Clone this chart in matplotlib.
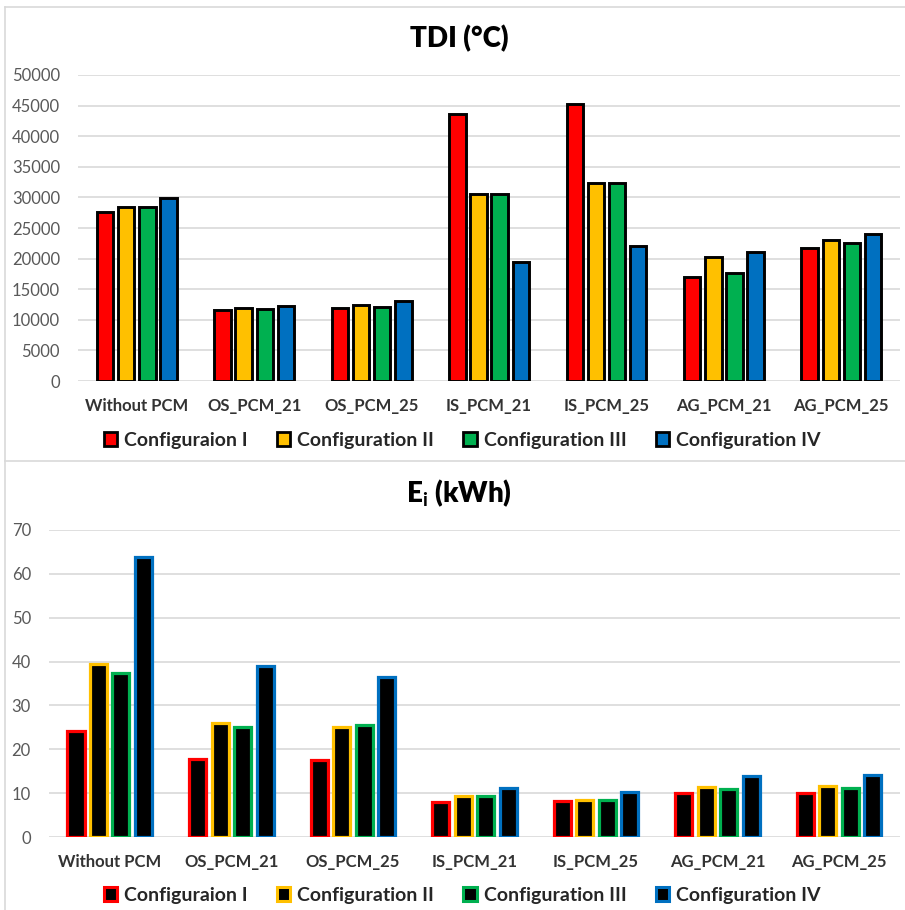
import numpy as np
import matplotlib
matplotlib.use('Agg')
import matplotlib.pyplot as plt
from matplotlib.patches import Patch
from matplotlib.lines import Line2D

plt.rcParams['font.family'] = ['Lato', 'DejaVu Sans']
plt.rcParams['mathtext.fontset'] = 'custom'
plt.rcParams['mathtext.bf'] = 'Lato:bold'
plt.rcParams['mathtext.rm'] = 'Lato'

categories = ['Without PCM', 'OS_PCM_21', 'OS_PCM_25', 'IS_PCM_21',
              'IS_PCM_25', 'AG_PCM_21', 'AG_PCM_25']
configs = ['Configuraion I', 'Configuration II', 'Configuration III', 'Configuration IV']
colors = ['#FF0000', '#FFC000', '#00B050', '#0070C0']

# TDI values, one list per configuration
tdi_c1 = [27600, 11600, 12000, 43600, 45200, 17000, 21700]
tdi_c2 = [28500, 11900, 12500, 30600, 32300, 20200, 23000]
tdi_c3 = [28500, 11800, 12100, 30600, 32300, 17700, 22600]
tdi_c4 = [29900, 12250, 13100, 19400, 22100, 21000, 24000]

# Ei values
ei_c1 = [24.1, 17.7, 17.6, 7.9, 8.2, 10.0, 10.0]
ei_c2 = [39.4, 25.9, 25.0, 9.3, 8.4, 11.4, 11.6]
ei_c3 = [37.3, 25.1, 25.6, 9.3, 8.4, 10.9, 11.2]
ei_c4 = [63.9, 39.0, 36.5, 11.1, 10.2, 13.9, 14.2]

tdi = [tdi_c1, tdi_c2, tdi_c3, tdi_c4]
ei = [ei_c1, ei_c2, ei_c3, ei_c4]

fig = plt.figure(figsize=(9.05, 9.10), dpi=100)
x = np.arange(len(categories))


def style_axes(ax, ymax, step):
    ax.set_xlim(-0.5, len(categories) - 0.5)
    ax.set_ylim(0, ymax)
    ax.set_yticks(np.arange(0, ymax + step, step))
    ax.yaxis.grid(True, color='#D9D9D9', linewidth=1.2)
    ax.set_axisbelow(True)
    for s in ax.spines.values():
        s.set_visible(False)
    ax.tick_params(axis='both', length=0)
    ax.tick_params(axis='y', labelsize=12, labelcolor='#595959', pad=13)
    ax.tick_params(axis='x', labelsize=12, labelcolor='#333333', pad=12)
    ax.set_xticks(x)
    ax.set_xticklabels(categories, fontweight='bold')


# top panel: TDI
ax1 = fig.add_axes([0.0862, 0.5813, 0.9083, 0.3363])
pitch = 0.18
for i in range(4):
    ax1.bar(x + (i - 1.5) * pitch, tdi[i], width=0.14, color=colors[i],
            edgecolor='black', linewidth=2.1, zorder=3)
style_axes(ax1, 50000, 5000)

# bottom panel: Ei
ax2 = fig.add_axes([0.0541, 0.0802, 0.9403, 0.3374])
pitch = 0.185
for i in range(4):
    ax2.bar(x + (i - 1.5) * pitch, ei[i], width=0.14, color='black',
            edgecolor=colors[i], linewidth=2.3, zorder=3)
style_axes(ax2, 70, 10)

fig.text(459 / 905, 1 - 39 / 910, 'TDI (°C)', ha='center', va='center',
         fontsize=20, fontweight='heavy', color='black')
fig.text(459 / 905, 1 - 493 / 910, r'E$_\mathbf{i}$ (kWh)', ha='center', va='center',
         fontsize=20, fontweight='heavy', color='black')

h1 = [Patch(facecolor=c, edgecolor='black', linewidth=2.0) for c in colors]
h2 = [Patch(facecolor='black', edgecolor=c, linewidth=2.2) for c in colors]
for handles, yc in [(h1, 440), (h2, 895)]:
    leg = fig.legend(handles, configs, loc='center', ncol=4,
                     bbox_to_anchor=(462 / 905, 1 - yc / 910), frameon=False,
                     prop={'weight': 'bold', 'size': 14},
                     handlelength=0.7, handleheight=0.7,
                     handletextpad=0.35, columnspacing=1.5)
    for t in leg.get_texts():
        t.set_color('#262626')

# chart area borders
border = '#D9D9D9'
fig.add_artist(Line2D([5 / 905, 1], [1 - 7 / 910, 1 - 7 / 910], color=border, lw=1.2))
fig.add_artist(Line2D([5 / 905, 5 / 905], [0, 1 - 7 / 910], color=border, lw=1.2))
fig.add_artist(Line2D([5 / 905, 1], [1 - 461 / 910, 1 - 461 / 910], color=border, lw=1.2))

fig.savefig('out.png', dpi=100)
